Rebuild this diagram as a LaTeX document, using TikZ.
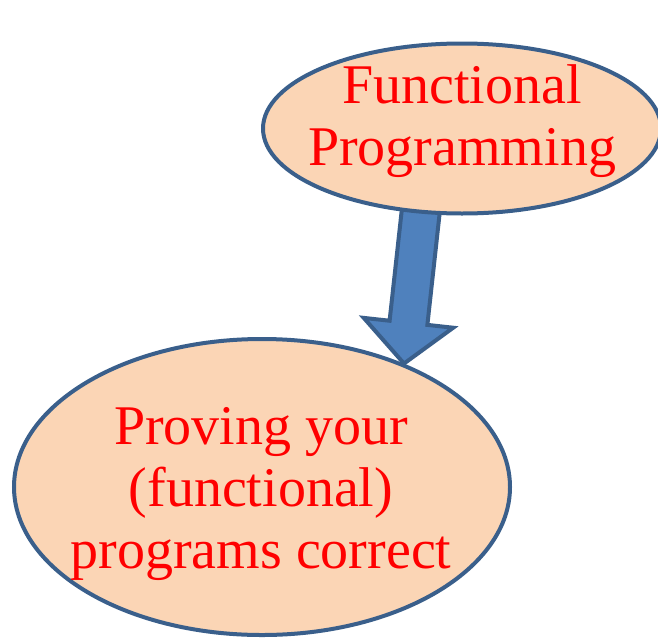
\documentclass[tikz,border=0pt]{standalone}
\usepackage{fontspec}
\setmainfont{Liberation Serif}
\usetikzlibrary{shapes.geometric,calc}

\definecolor{bubblefill}{HTML}{FBD5B5}
\definecolor{bubbleline}{HTML}{3A5F8B}
\definecolor{arrowfill}{HTML}{4F81BD}

\pgfdeclarelayer{front}
\pgfsetlayers{main,front}

\tikzset{
  bubble/.style={ellipse,draw=bubbleline,fill=bubblefill,line width=4pt,inner sep=0pt},
  bubbletext/.style={text=red,align=center,inner sep=0pt,font=\fontsize{56}{62}\selectfont},
  blockarrow/.style={draw=bubbleline,fill=arrowfill,line width=4pt,line join=miter}
}

\begin{document}
\begin{tikzpicture}[x=1pt,y=-1pt]
    \useasboundingbox (0,0) rectangle (658,640);

    \node[bubble,minimum width=496pt,minimum height=296pt] (proof) at (262,487) {};
    \node[bubbletext] (prooftext) at (261,494) {Proving your\\(functional)\\programs correct};

    \begin{pgfonlayer}{front}
      \node[bubble,minimum width=398pt,minimum height=170pt] (fp) at (462,128.5) {};
      \node[bubbletext] (fptext) at (462,121) {Functional\\Programming};
    \end{pgfonlayer}

    % fat arrow from the top bubble to the bottom one
    \coordinate (tail) at ($(fp.244)!-6pt!(proof.41)$);
    \coordinate (tip) at (proof.41);
    \coordinate (neck) at ($(tip)!41pt!(tail)$);
    \draw[blockarrow] ($(tail)!19pt!90:(tip)$) -- ($(neck)!19pt!90:(tip)$)
      -- ($(neck)!45pt!90:(tip)$) -- (tip) -- ($(neck)!45pt!-90:(tip)$)
      -- ($(neck)!19pt!-90:(tip)$) -- ($(tail)!19pt!-90:(tip)$) -- cycle;

  \end{tikzpicture}
\end{document}
